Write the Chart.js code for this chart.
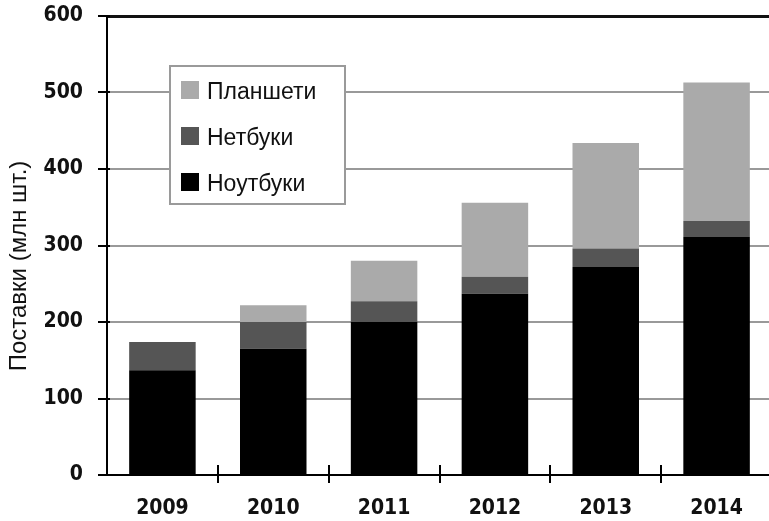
<!DOCTYPE html>
<html><head><meta charset="utf-8">
<script src="https://cdn.jsdelivr.net/npm/chart.js@4"></script>
<style>html,body{margin:0;padding:0;overflow:hidden;background:#fff}</style>
</head><body>
<canvas id="c" width="780" height="521" style="display:block;width:780px;height:521px"></canvas>
<script>
const years = ['2009','2010','2011','2012','2013','2014'];
const notebooks = [137,165,200,237,272,311];
const netbooks = [37,35,27,22,24,21];
const tablets = [0,22,53,97,138,181];
const seriesLabels = ['Ноутбуки','Нетбуки','Планшети'];
const seriesColors = ['#000000','#555555','#aaaaaa'];
const yMin = 0, yMax = 600, yStep = 100;
const yTitle = 'Поставки (млн шт.)';

const tickFont = {family:'"DejaVu Sans Condensed","DejaVu Sans",sans-serif', size:21, weight:'bold'};

const extras = {
  id:'extras',
  afterDraw(chart){
    const ctx = chart.ctx, ca = chart.chartArea;
    const xs = chart.scales.x, ys = chart.scales.y;
    ctx.save();
    ctx.strokeStyle = '#000'; ctx.lineWidth = 2;
    ys.ticks.forEach(t=>{
      const py = Math.round(ys.getPixelForValue(t.value));
      ctx.beginPath(); ctx.moveTo(ca.left-9, py); ctx.lineTo(ca.left+3, py); ctx.stroke();
    });
    for(let i=1;i<years.length;i++){
      const px = Math.round((xs.getPixelForValue(i-1)+xs.getPixelForValue(i))/2);
      ctx.beginPath(); ctx.moveTo(px, ca.bottom-10); ctx.lineTo(px, ca.bottom+8); ctx.stroke();
    }
    ctx.save();
    ctx.translate(26, 266);
    ctx.rotate(-Math.PI/2);
    ctx.font = '24px "Liberation Sans", Arial, sans-serif';
    ctx.fillStyle = '#111';
    ctx.textAlign = 'center'; ctx.textBaseline = 'alphabetic';
    ctx.fillText(yTitle, 0, 0);
    ctx.restore();
    const lx = ca.left + 63, ly = ca.top + 50, lw = 175, lh = 138;
    ctx.fillStyle = '#fff';
    ctx.fillRect(lx, ly, lw, lh);
    ctx.strokeStyle = '#9a9a9a'; ctx.lineWidth = 2;
    ctx.strokeRect(lx, ly, lw, lh);
    ctx.font = '23px "Liberation Sans", Arial, sans-serif';
    ctx.textAlign = 'left'; ctx.textBaseline = 'alphabetic';
    const ds = chart.data.datasets.slice().reverse();
    ds.forEach((d,i)=>{
      const sy = ly + 15 + i*46;
      ctx.fillStyle = d.backgroundColor;
      ctx.fillRect(lx+11, sy, 18, 18);
      ctx.fillStyle = '#111';
      ctx.fillText(d.label, lx+37, sy+18);
    });
    ctx.restore();
  }
};

new Chart(document.getElementById('c'), {
  type:'bar',
  data:{
    labels: years,
    datasets:[
      {label:seriesLabels[0], data:notebooks, backgroundColor:seriesColors[0]},
      {label:seriesLabels[1], data:netbooks, backgroundColor:seriesColors[1]},
      {label:seriesLabels[2], data:tablets, backgroundColor:seriesColors[2]}
    ]
  },
  options:{
    responsive:false, animation:false, devicePixelRatio:1,
    layout:{padding:{top:16,right:8,left:0,bottom:0}},
    datasets:{bar:{categoryPercentage:1, barPercentage:0.6, borderWidth:0}},
    plugins:{legend:{display:false}, tooltip:{enabled:false}},
    scales:{
      x:{
        stacked:true,
        grid:{display:true, drawOnChartArea:false, drawTicks:false},
        border:{display:true, color:'#000', width:2},
        ticks:{font:tickFont, color:'#111', padding:21},
        afterFit(s){ s.height = 46; s.paddingLeft = 0; s.paddingRight = 0; }
      },
      y:{
        stacked:true, min:yMin, max:yMax,
        ticks:{stepSize:yStep, font:tickFont, color:'#111', padding:24},
        grid:{
          drawTicks:false,
          color:(c)=> (c.tick && (c.tick.value===yMax || c.tick.value===yMin)) ? '#111' : '#999',
          lineWidth:(c)=> (c.tick && c.tick.value===yMax) ? 3 : 2
        },
        border:{display:true, color:'#000', width:2},
        afterFit(s){ s.width = 107; s.paddingTop = 0; s.paddingBottom = 0; }
      }
    }
  },
  plugins:[extras]
});
</script>
</body></html>
